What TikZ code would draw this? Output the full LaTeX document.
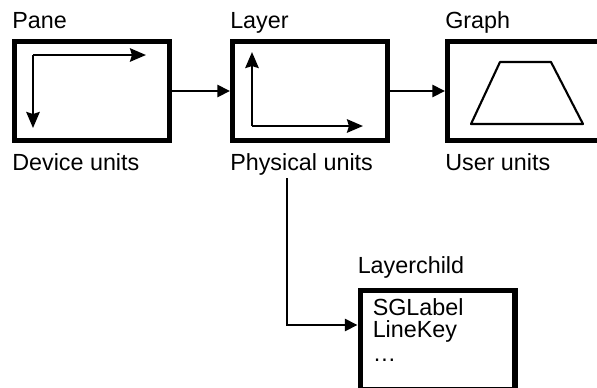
\documentclass[tikz,border=0pt]{standalone}
\usepackage{fontspec}
\setmainfont{Liberation Sans}
\usetikzlibrary{positioning, arrows.meta}

\begin{document}
\begin{tikzpicture}[x=0.75pt, y=-0.75pt, font=\fontsize{17.5pt}{16.5pt}\selectfont,
    frame/.style={draw, line width=4.1pt, minimum width=115.9pt, minimum height=73.9pt, inner sep=0pt},
    tag/.style={inner sep=0pt, anchor=base west},
    link/.style={line width=2.1pt, -{Triangle[length=9.5pt, width=9pt]}},
    axis/.style={line width=2pt, -{Stealth[length=12pt, width=10pt, inset=1.5pt]}}]

    \useasboundingbox (0,0) rectangle (597,387);

    % the three windows and the child box
    \node [frame] (pane) at (92,91) {};
    \node [frame, right=43.5pt of pane] (layer) {};
    \node [frame, right=41.25pt of layer] (graph) {};
    \node [frame] (child) at (437.5,340) {};

    % names above, units below
    \node [tag] (panetag)  at ([yshift=8.25pt]pane.north west) {Pane};
    \node [tag] (layertag) at ([yshift=8.25pt]layer.north west) {Layer};
    \node [tag] (graphtag) at ([yshift=8.25pt]graph.north west) {Graph};
    \node [tag] (childtag) at ([yshift=11.25pt]child.north west) {Layerchild};

    \node [tag] (paneunit)  at ([yshift=-20.25pt]pane.south west) {Device units};
    \node [tag] (layerunit) at ([yshift=-20.25pt]layer.south west) {Physical units};
    \node [tag] (graphunit) at ([yshift=-20.25pt]graph.south west) {User units};

    \node [tag, anchor=north west, align=left] (childlist) at ([xshift=11.25pt, yshift=-7.5pt]child.north west)
        {SGLabel\\LineKey\\[2pt]\ldots};

    % axes drawn inside the windows
    \draw [axis] (33,55) -- (146,55);
    \draw [axis] (33,55) -- (33,128);
    \draw [axis] (252,126) -- (252,52);
    \draw [axis] (252,126) -- (363,126);
    \draw [line width=1.6pt, line join=round] (471,124) -- (583,124) -- (551,62) -- (500,62) -- cycle;

    % connectors
    \coordinate (drop) at (287,178);
    \coordinate (entry) at ([yshift=11.25pt]child.west);
    \draw [link] (pane) -- (layer);
    \draw [link] (layer) -- (graph);
    \draw [link] (drop) |- (entry);
\end{tikzpicture}
\end{document}
